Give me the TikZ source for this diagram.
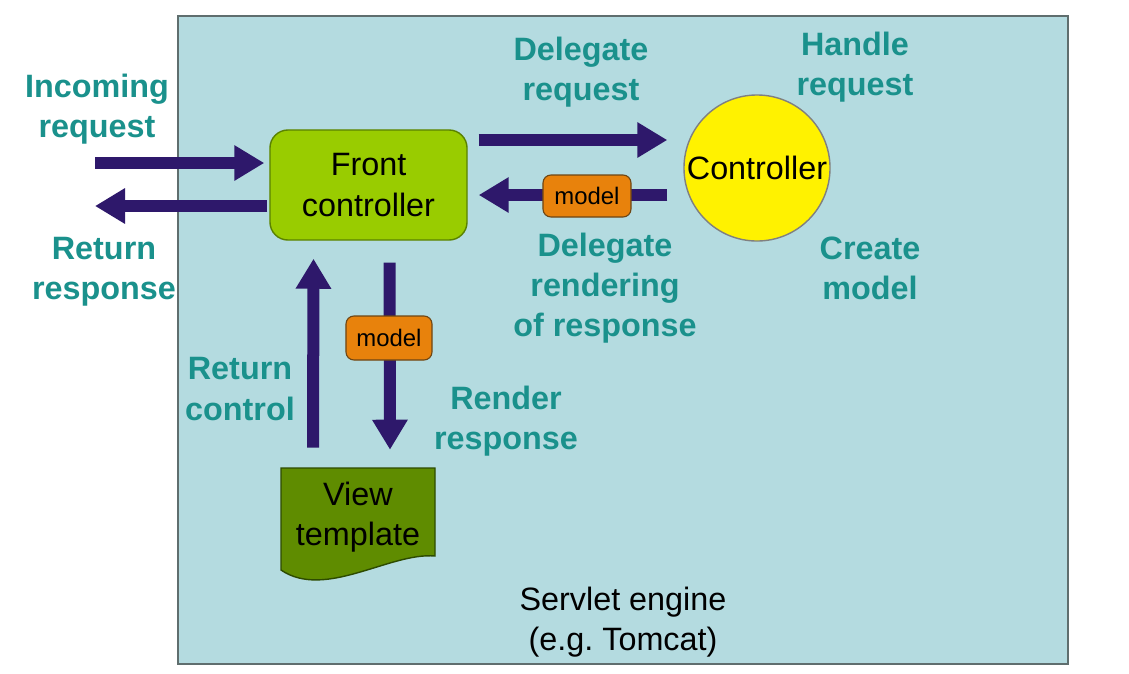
\documentclass[tikz,border=0pt]{standalone}
\usepackage{fontspec}
\setmainfont{Liberation Sans}
\usetikzlibrary{arrows.meta,calc}
\frenchspacing
\begin{document}
\begin{tikzpicture}[x=0.025cm,y=-0.025cm,
    lbl/.style={font=\fontsize{23}{28.5}\selectfont\bfseries,text=mvc_teal,align=center,inner sep=0pt},
    txt/.style={font=\fontsize{23}{28.5}\selectfont,align=center,inner sep=0pt},
    bigarrow/.style={draw=mvc_arrow,line width=0.3cm,-{Triangle[length=0.75cm,width=0.84cm]}},
    modelbox/.style={shape=rectangle,draw=mvc_modelB,fill=mvc_model,rounded corners=0.2cm,line width=0.8pt,inner sep=0pt,font=\fontsize{17}{20}\selectfont}]
    \definecolor{mvc_bg}{RGB}{180,219,224}
    \definecolor{mvc_bgB}{RGB}{95,110,110}
    \definecolor{mvc_teal}{RGB}{26,145,140}
    \definecolor{mvc_arrow}{RGB}{46,24,107}
    \definecolor{mvc_front}{RGB}{153,204,0}
    \definecolor{mvc_frontB}{RGB}{90,130,0}
    \definecolor{mvc_view}{RGB}{95,140,0}
    \definecolor{mvc_viewB}{RGB}{45,75,0}
    \definecolor{mvc_model}{RGB}{232,130,12}
    \definecolor{mvc_modelB}{RGB}{110,70,20}
    \useasboundingbox[fill=white] (0,0) rectangle (1129,673);
    % servlet engine
    \draw[draw=mvc_bgB,fill=mvc_bg,line width=1.2pt] (178,16) rectangle (1068,664);
    \node[txt] (engine) at (623,622) {Servlet engine\\(e.g. Tomcat)};
    % main parts
    \node[shape=rectangle,draw=mvc_frontB,fill=mvc_front,rounded corners=0.45cm,line width=1pt,minimum width=4.925cm,minimum height=2.75cm,txt] (fc) at (368.5,185) {Front\\controller};
    \node[shape=circle,draw=gray,fill=yellow,line width=1pt,minimum size=3.65cm,txt] (ctrl) at (757,168) {Controller};
    \draw[draw=mvc_viewB,fill=mvc_view,line width=1pt] (281,468) -- (435,468) -- (435,556) .. controls (390,552) and (325,600) .. (281,570) -- cycle;
    \node[txt,minimum width=3.875cm,minimum height=2.25cm] (view) at (358,513) {};
    \node[txt] (viewText) at (358,517) {View\\template};
    % labels
    \node[lbl] (incoming) at (97,109) {Incoming\\request};
    \node[lbl] (response) at (104,272) {Return\\response};
    \node[lbl] (delegate) at (581,72) {Delegate\\request};
    \node[lbl] (handle) at (855,67) {Handle\\request};
    \node[lbl] (create) at (870,268) {Create\\model};
    \node[lbl] (rendering) at (605,288) {Delegate\\rendering\\of response};
    \node[lbl] (control) at (240,389) {Return\\control};
    \node[lbl] (render) at (506,421) {Render\\response};
    % arrows
    \coordinate (inStart) at (95,163);
    \coordinate (outEnd) at (95,206);
    \draw[bigarrow,shorten >=0.125cm] (inStart) -- (fc.west |- inStart);
    \draw[bigarrow,shorten <=0.05cm] (fc.west |- outEnd) -- (outEnd);
    \draw[bigarrow] ($(fc.east)+(11,-45)$) -- ($(ctrl.west)+(-16,-28)$);
    \draw[bigarrow] ($(ctrl.west)+(-16,27)$) -- ($(fc.east)+(11,10)$);
    \draw[bigarrow] ($(fc.south)+(21,22)$) -- ($(view.north)+(32,-18)$);
    \draw[bigarrow] ($(view.north)+(-45,-20)$) -- ($(fc.south)+(-55,18)$);
    % model boxes
    \node[modelbox,minimum width=2.2cm,minimum height=1.05cm] (modelA) at (587,196) {model};
    \node[modelbox,minimum width=2.15cm,minimum height=1.1cm] (modelB) at (389,338) {model};
\end{tikzpicture}
\end{document}
